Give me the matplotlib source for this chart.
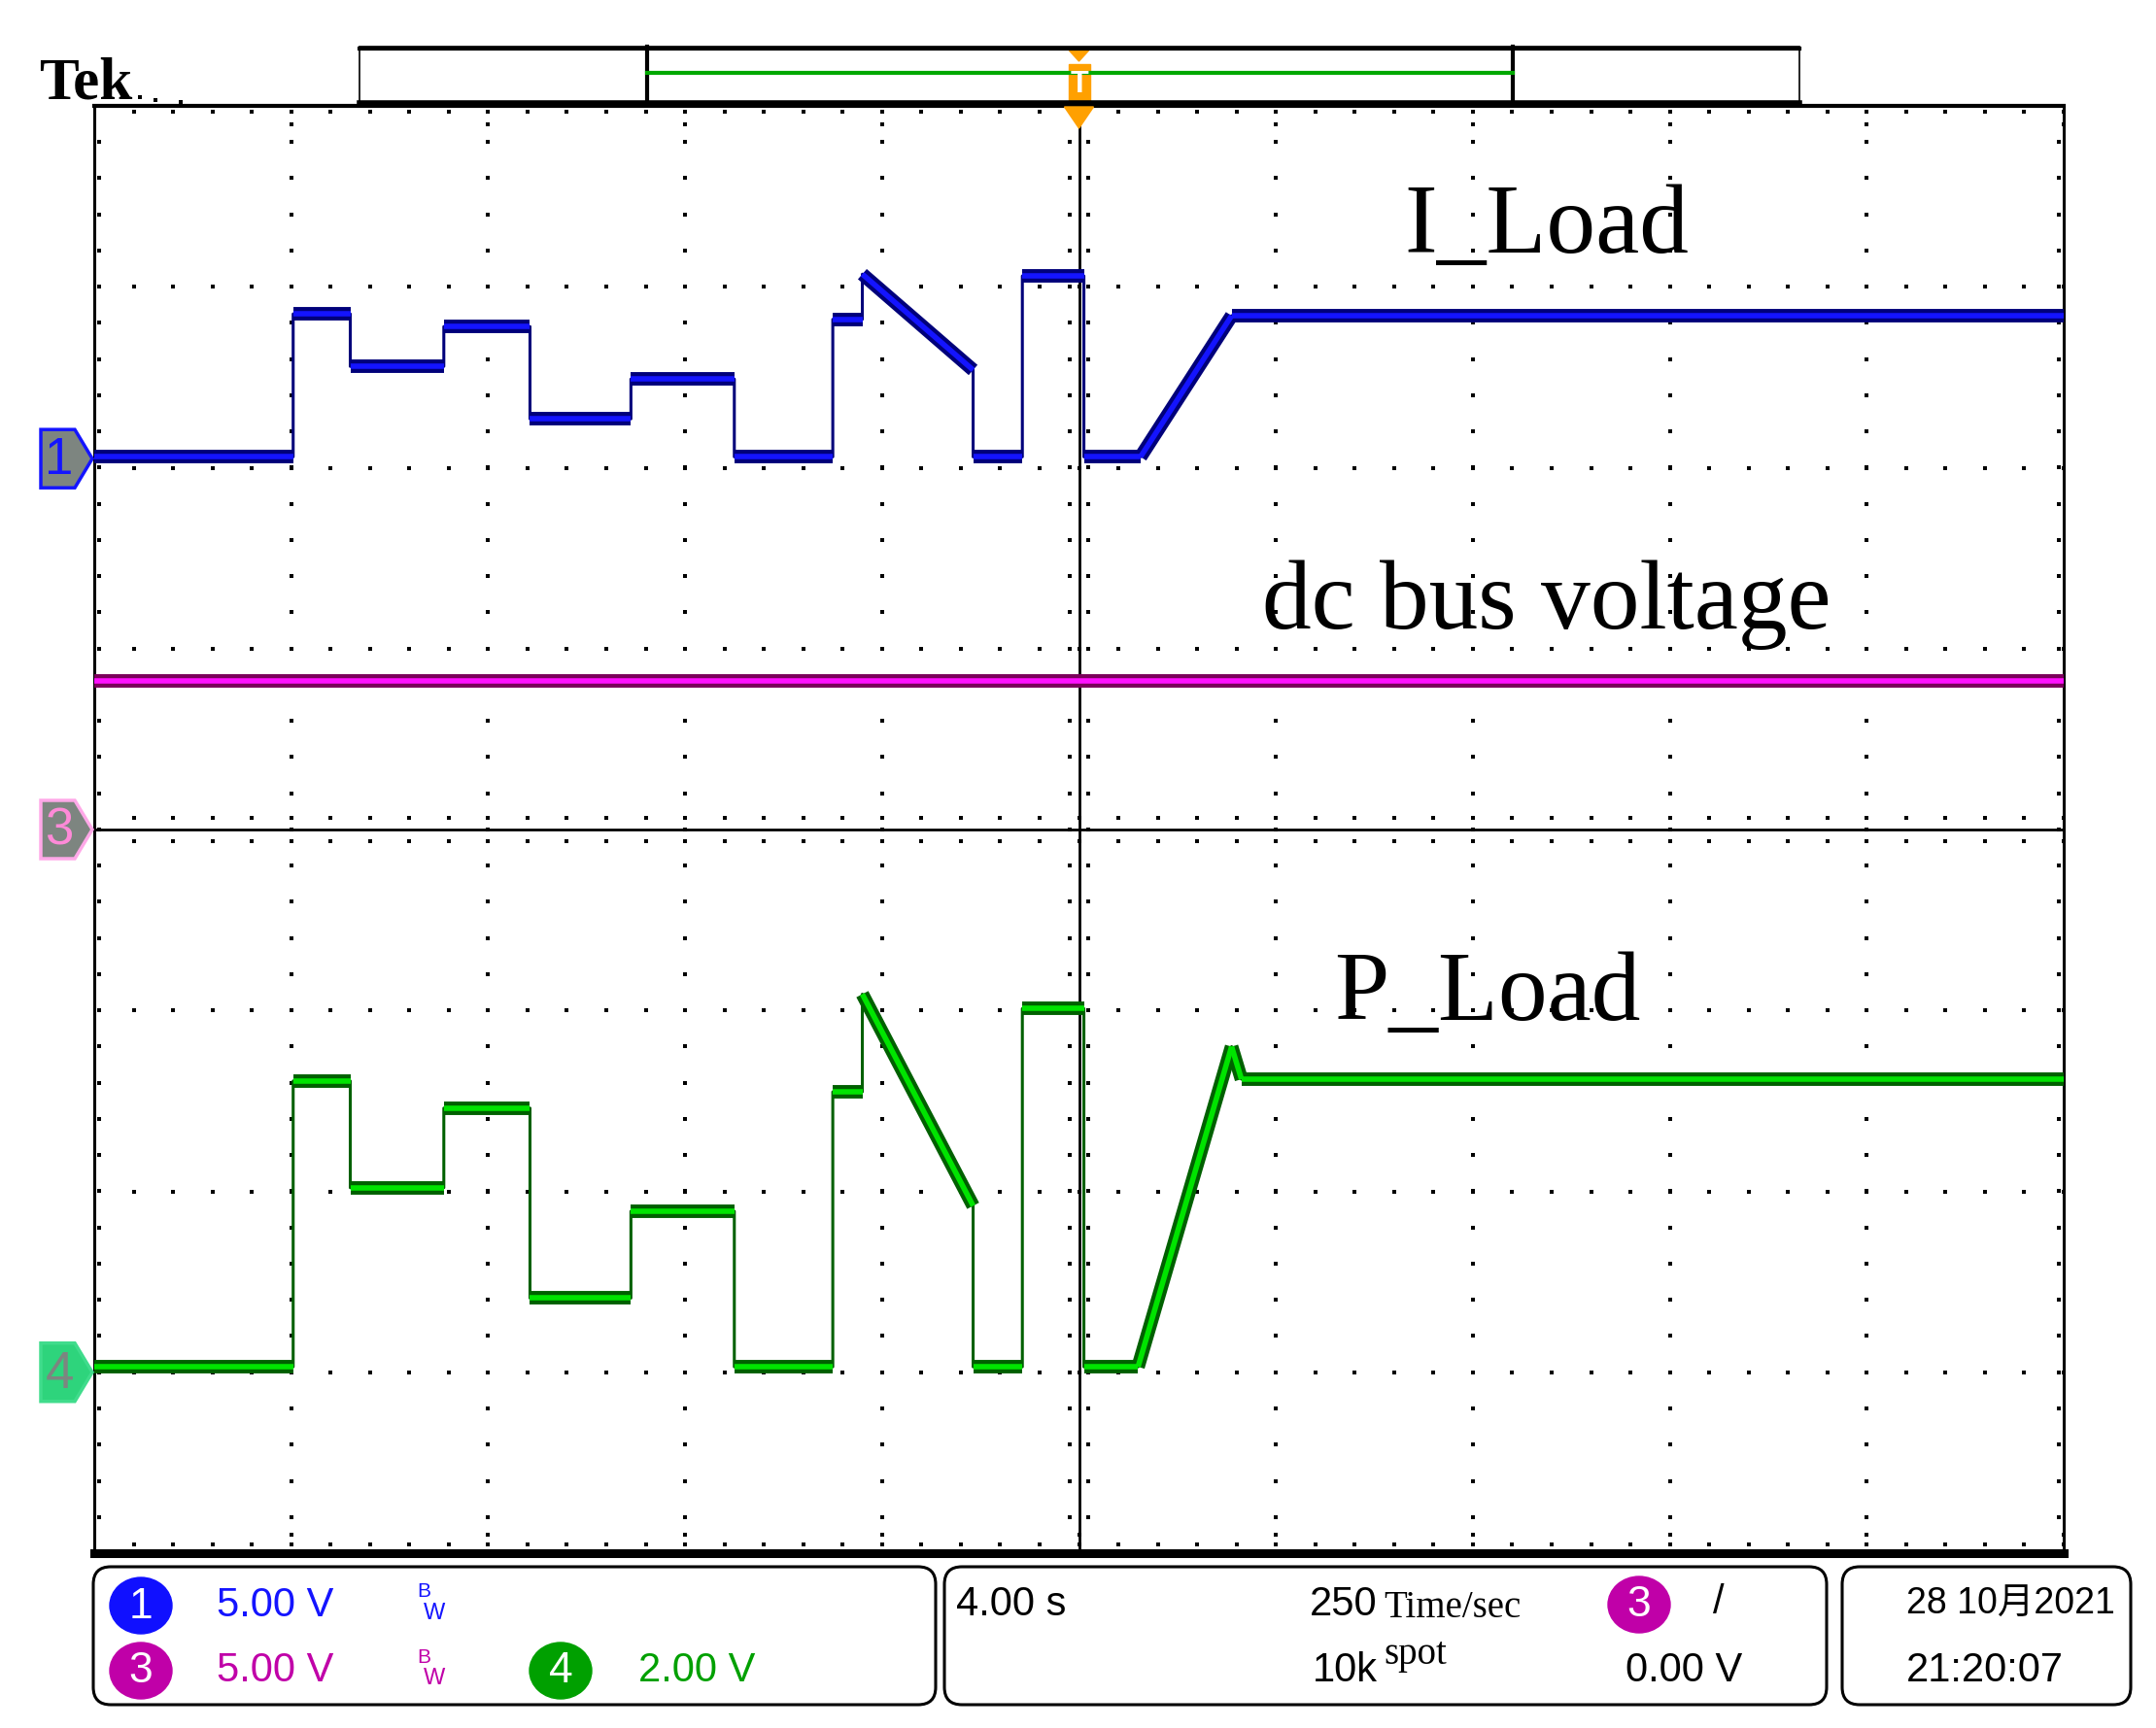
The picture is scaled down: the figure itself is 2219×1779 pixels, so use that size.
import numpy as np
import matplotlib
matplotlib.use("Agg")
import matplotlib.pyplot as plt
from matplotlib.patches import Polygon, Ellipse, FancyBboxPatch, Rectangle
from matplotlib.collections import LineCollection

W, H = 2219, 1779
# graticule box in pixels
PX0, PX1, PY0, PY1 = 97, 2124, 109, 1599

sec_per_div = 4.0
# V/div and ground marker position (divisions from centre)
ch1_scale, ch1_pos = 5.0, 2.05
ch3_scale, ch3_pos = 5.0, 0.0
ch4_scale, ch4_pos = 2.0, -3.0

# I_Load (ch1), seconds / volts
i_t = [0, 4.04, 4.04, 5.2, 5.2, 7.1, 7.1, 8.85, 8.85, 10.9, 10.9, 13.0, 13.0,
       15.0, 15.0, 15.6, 15.6, 17.85, 17.85, 18.85, 18.85, 20.1, 20.1, 21.25, 23.1, 40]
i_v = [0.05, 0.05, 4.0, 4.0, 2.55, 2.55, 3.65, 3.65, 1.1, 1.1, 2.2, 2.2, 0.05,
       0.05, 3.85, 3.85, 5.1, 2.45, 0.05, 0.05, 5.05, 5.05, 0.05, 0.05, 3.95, 3.95]

# dc bus voltage (ch3)
v_t = [0, 40]
v_v = [4.1, 4.1]

# P_Load (ch4)
p_t = [0, 4.04, 4.04, 5.2, 5.2, 7.1, 7.1, 8.85, 8.85, 10.9, 10.9, 13.0, 13.0,
       15.0, 15.0, 15.6, 15.6, 17.85, 17.85, 18.85, 18.85, 20.1, 20.1, 21.2, 23.1, 23.3, 40]
p_v = [0.06, 0.06, 3.22, 3.22, 2.04, 2.04, 2.92, 2.92, 0.82, 0.82, 1.78, 1.78, 0.06,
       0.06, 3.10, 3.10, 4.18, 1.84, 0.06, 0.06, 4.02, 4.02, 0.06, 0.06, 3.60, 3.24, 3.24]

NARROW = ['Liberation Sans Narrow', 'Liberation Sans']
NARROW_CJK = ['Liberation Sans Narrow', 'Liberation Sans', 'Noto Sans CJK SC']
SERIF = ['Liberation Serif']

BLUE, BLUE_D = '#1414ff', '#00007a'
MAG, MAG_D = '#ff10ff', '#7a005a'
GRN, GRN_D = '#00e400', '#006000'
ORANGE = '#ffa000'

fig = plt.figure(figsize=(W / 100, H / 100), dpi=100)
ax = fig.add_axes([PX0 / W, 1 - PY1 / H, (PX1 - PX0) / W, (PY1 - PY0) / H])
ax.set_xlim(0, 10 * sec_per_div)
ax.set_ylim(-4, 4)
ax.set_xticks([])
ax.set_yticks([])
for side, lw in [('left', 2.2), ('right', 2.2), ('top', 3.0), ('bottom', 6.5)]:
    ax.spines[side].set_linewidth(lw)
    ax.spines[side].set_color('black')

# graticule
minor_x = np.arange(0, 10.001, 0.2) * sec_per_div
minor_y = np.arange(-4, 4.001, 0.2)
dot = dict(marker='s', s=7, color='black', linewidths=0, zorder=2)
for k in [1, 2, 3, 4, 6, 7, 8, 9]:
    ax.scatter(np.full(minor_y.size, k * sec_per_div), minor_y, **dot)
for k in [-3, -2, -1, 1, 2, 3]:
    ax.scatter(minor_x, np.full(minor_x.size, k), **dot)
ax.axhline(0, color='black', lw=2.0, zorder=2)
ax.axvline(5 * sec_per_div, color='black', lw=2.0, zorder=2)
for off in [-0.065, 0.065]:
    ax.scatter(minor_x, np.full(minor_x.size, off), **dot)
for off in [-0.18, 0.18]:
    ax.scatter(np.full(minor_y.size, 5 * sec_per_div + off), minor_y, **dot)
# border ticks
ax.scatter(minor_x, np.full(minor_x.size, 3.97), **dot)
ax.scatter(minor_x, np.full(minor_x.size, -3.95), **dot)
ax.scatter(np.full(minor_y.size, 0.1), minor_y, **dot)
ax.scatter(np.full(minor_y.size, 39.9), minor_y, **dot)
major_x = np.arange(0, 11) * sec_per_div
ax.scatter(major_x, np.full(major_x.size, 3.9), **dot)
ax.scatter(major_x, np.full(major_x.size, -3.9), **dot)


def draw_trace(t, v, scale, pos, core, dark):
    t = np.asarray(t, dtype=float)
    y = pos + np.asarray(v, dtype=float) / scale
    ax.plot(t, y, color=dark, lw=2.2, zorder=4)
    segs = [[(t[i], y[i]), (t[i + 1], y[i + 1])]
            for i in range(len(t) - 1) if t[i + 1] > t[i]]
    ax.add_collection(LineCollection(segs, colors=dark, linewidths=10,
                                     capstyle='butt', zorder=4))
    ax.add_collection(LineCollection(segs, colors=core, linewidths=4,
                                     capstyle='butt', zorder=5))


draw_trace(v_t, v_v, ch3_scale, ch3_pos, MAG, MAG_D)
draw_trace(i_t, i_v, ch1_scale, ch1_pos, BLUE, BLUE_D)
draw_trace(p_t, p_v, ch4_scale, ch4_pos, GRN, GRN_D)

lab = dict(family=SERIF, fontsize=73, color='black', ha='center', va='baseline', zorder=6)
ax.text(29.5, 3.19, 'I_Load', **lab)
ax.text(29.5, 1.11, 'dc bus voltage', **lab)
ax.text(28.3, -1.05, 'P_Load', **lab)

# overlay in pixel coordinates for the scope furniture
deco = fig.add_axes([0, 0, 1, 1])
deco.set_xlim(0, W)
deco.set_ylim(H, 0)
deco.axis('off')
deco.set_zorder(3)

deco.text(40, 102, 'Tek', family=SERIF, fontweight='bold', fontsize=44, va='baseline')
deco.scatter([144, 160, 186], [100, 103, 105], marker='s', s=6, color='black', linewidths=0)

# record bar at the top
deco.add_patch(Rectangle((370, 48), 1852 - 370, 58, facecolor='white', edgecolor='black', lw=1.2))
deco.plot([370, 1852], [49.5, 49.5], color='black', lw=3.0)
deco.plot([370, 1852], [106, 106], color='black', lw=4.0)
for xd in [666, 1557]:
    deco.plot([xd, xd], [48, 107], color='black', lw=3.0)
deco.plot([666, 1557], [75, 75], color='#00a800', lw=3.0)
xc = (PX0 + PX1) / 2
deco.add_patch(Polygon([(xc - 10, 52), (xc + 10, 52), (xc, 63)], color=ORANGE))
deco.add_patch(Rectangle((xc - 11, 66), 22, 40, color=ORANGE))
deco.text(xc, 87, 'T', color='white', family=NARROW, fontweight='bold', fontsize=22,
          ha='center', va='center')
deco.add_patch(Polygon([(xc - 15, 110), (xc + 15, 110), (xc, 132)], color=ORANGE))

# channel ground markers
def ch_marker(pos, face, edge, txtcol, label):
    yc = PY0 + (4 - pos) / 8 * (PY1 - PY0)
    pts = [(42, yc - 30), (77, yc - 30), (95, yc), (77, yc + 30), (42, yc + 30)]
    deco.add_patch(Polygon(pts, closed=True, facecolor=face, edgecolor=edge, lw=2.5, zorder=5))
    deco.text(61, yc + 2, label, color=txtcol, family=NARROW, fontsize=38,
              ha='center', va='center', zorder=6)


ch_marker(ch1_pos, '#7d8580', '#1414ff', '#1414ff', '1')
ch_marker(ch3_pos, '#7d8580', '#ffa8e8', '#ff8ad8', '3')
ch_marker(ch4_pos, '#2ed47c', '#40dc8c', '#7d8580', '4')

# readout panels
for x0, x1 in [(96, 963), (972, 1880), (1896, 2193)]:
    deco.add_patch(FancyBboxPatch((x0, 1613), x1 - x0, 142,
                                  boxstyle='round,pad=0,rounding_size=18',
                                  facecolor='white', edgecolor='black', lw=2.2))

def badge(x, y, col, label):
    deco.add_patch(Ellipse((x, y), 64, 58, color=col, zorder=5))
    deco.text(x, y + 1, label, color='white', family=NARROW, fontsize=32,
              ha='center', va='center', zorder=6)


ro = dict(family=NARROW, fontsize=30, va='center')
badge(145, 1653, '#1010ff', '1')
deco.text(223, 1653, '5.00 V', color=BLUE, **ro)
deco.text(429, 1638, 'B', color=BLUE, family=NARROW, fontsize=15, va='center')
deco.text(436, 1661, 'W', color=BLUE, family=NARROW, fontsize=17, va='center')

badge(145, 1720, '#c000a8', '3')
deco.text(223, 1720, '5.00 V', color='#c000a8', **ro)
deco.text(429, 1706, 'B', color='#c000a8', family=NARROW, fontsize=15, va='center')
deco.text(436, 1728, 'W', color='#c000a8', family=NARROW, fontsize=17, va='center')

badge(577, 1720, '#00a000', '4')
deco.text(657, 1720, '2.00 V', color='#00a000', **ro)

deco.text(984, 1652, '4.00 s', color='black', **ro)
deco.text(1418, 1652, '250', color='black', ha='right', **ro)
deco.text(1424, 1665, 'Time/sec', family=SERIF, fontsize=28, va='baseline')
deco.text(1418, 1720, '10k', color='black', ha='right', **ro)
deco.text(1424, 1713, 'spot', family=SERIF, fontsize=28, va='baseline')
badge(1687, 1652, '#c000a8', '3')
deco.text(1763, 1650, '/', color='black', **ro)
deco.text(1673, 1720, '0.00 V', color='black', **ro)

deco.text(1962, 1652, '28 10月2021', color='black', family=NARROW_CJK, fontsize=27, va='center')
deco.text(1962, 1720, '21:20:07', color='black', **ro)

fig.savefig('out.png', dpi=100)
